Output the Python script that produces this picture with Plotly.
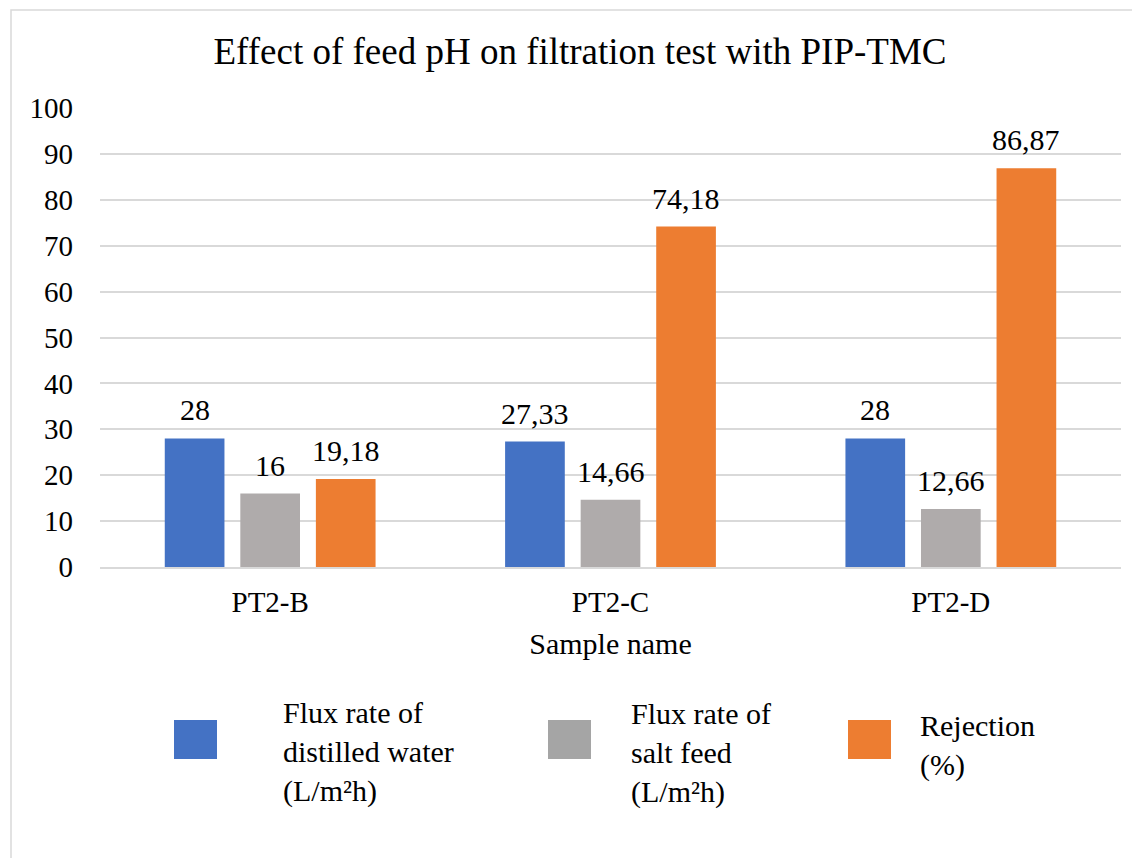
import plotly.graph_objects as go

categories = ["PT2-B", "PT2-C", "PT2-D"]
series_names = ["Flux rate of<br>distilled water<br>(L/m²h)",
                "Flux rate of<br>salt feed<br>(L/m²h)",
                "Rejection<br>(%)"]
flux_distilled = [28, 27.33, 28]
flux_salt = [16, 14.66, 12.66]
rejection = [19.18, 74.18, 86.87]
colors = ["#4472C4", "#AFABAB", "#ED7D31"]
legend_colors = ["#4472C4", "#A5A5A5", "#ED7D31"]
y_ticks = list(range(0, 101, 10))

FONT = "Liberation Serif"
W, H = 1140, 858
OFF = 8  # page body offset
L, T = 100 - OFF, 108 - OFF
R = W - (1121 - OFF)
B = H - (567 - OFF)
BARGAP, GROUPGAP = 0.334, 0.21


def fmt(v):
    return f"{v:g}".replace(".", ",")


series = [flux_distilled, flux_salt, rejection]
fig = go.Figure()
for name, vals, col in zip(series_names, series, colors):
    fig.add_trace(go.Bar(
        x=categories, y=vals, name=name, marker=dict(color=col, line=dict(width=0)),
        showlegend=False, hoverinfo="x+y",
    ))

pw = W - L - R
ph = H - T - B
slot = pw / len(categories) * (1 - BARGAP) / len(series)

def px(x):
    return (x - OFF - L) / pw

def py(y):
    return (H - B - (y - OFF)) / ph

shapes = []
annotations = []
# value labels above bars
for si, vals in enumerate(series):
    for ci, v in enumerate(vals):
        annotations.append(dict(xref="x", yref="y", x=categories[ci], y=v,
                                xshift=(si - 1) * slot, yshift=10,
                                xanchor="center", yanchor="bottom", showarrow=False,
                                text=fmt(v), font=dict(family=FONT, size=30, color="#000000")))

shapes.append(dict(type="rect", xref="paper", yref="paper",
                   x0=px(11), x1=px(1180), y0=py(10), y1=py(900),
                   line=dict(color="#D9D9D9", width=1.5), fillcolor="rgba(0,0,0,0)", layer="below"))

sq_x = [174, 548, 848]
txt_x = [281, 629, 918]
txt_y = [752, 753, 745]
for i in range(3):
    shapes.append(dict(type="rect", xref="paper", yref="paper",
                       x0=px(sq_x[i]), x1=px(sq_x[i] + 43), y0=py(759), y1=py(720),
                       line=dict(width=0), fillcolor=legend_colors[i]))
    annotations.append(dict(xref="paper", yref="paper", x=px(txt_x[i]), y=py(txt_y[i]),
                            xanchor="left", yanchor="middle", align="left",
                            text=series_names[i], showarrow=False,
                            font=dict(family=FONT, size=30, color="#000000")))

fig.update_layout(
    width=W, height=H,
    margin=dict(l=L, r=R, t=T, b=B, autoexpand=False),
    paper_bgcolor="white", plot_bgcolor="white",
    barmode="group", bargap=BARGAP, bargroupgap=GROUPGAP,
    title=dict(text="Effect of feed pH on filtration test with PIP-TMC",
               x=(580 - OFF) / W, xanchor="center", y=1 - (51 - OFF) / H, yref="container", yanchor="middle",
               font=dict(family=FONT, size=37, color="#000000")),
    xaxis=dict(showline=True, linecolor="#D9D9D9", linewidth=1.5, ticks="",
               ticklabelstandoff=8,
               tickfont=dict(family=FONT, size=29, color="#000000"),
               title=dict(text="Sample name", standoff=16,
                          font=dict(family=FONT, size=30, color="#000000"))),
    yaxis=dict(range=[0, 100], tickvals=y_ticks, showgrid=True, gridcolor="#D9D9D9",
               gridwidth=1.5, zeroline=False, showline=False, ticks="",
               ticklabelstandoff=26,
               tickfont=dict(family=FONT, size=29, color="#000000")),
    shapes=shapes, annotations=annotations,
)

fig.write_html("out.html")
